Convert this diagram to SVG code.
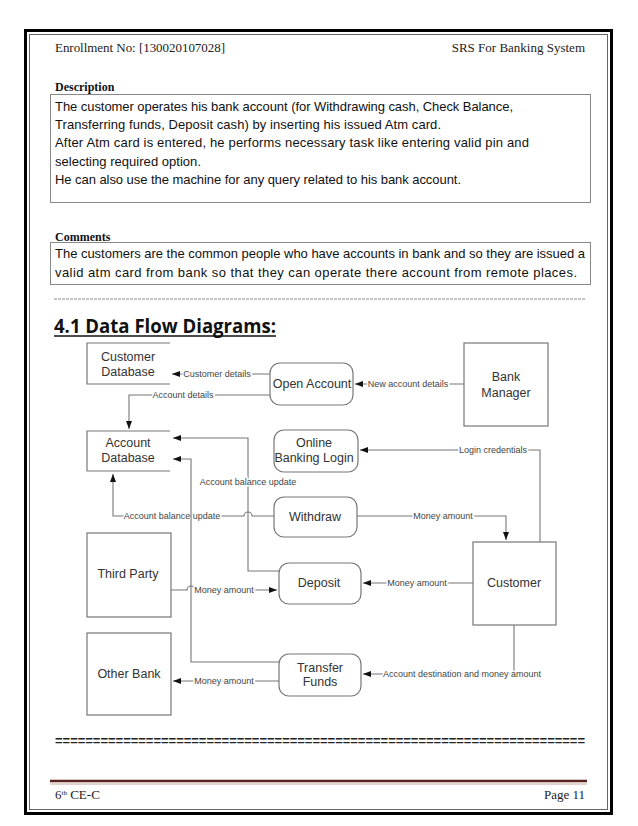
<svg xmlns="http://www.w3.org/2000/svg" width="638" height="826" viewBox="0 0 638 826">
<style>
.hdr{font-family:"Liberation Serif",serif;font-size:13px;fill:#222}
.lbl{font-family:"Liberation Serif",serif;font-size:12px;font-weight:bold;fill:#111}
.body{font-family:"Liberation Sans",sans-serif;font-size:13px;fill:#111}
.box{fill:none;stroke:#888;stroke-width:1}
.node{fill:#fff;stroke:#777;stroke-width:1.2}
.store{fill:none;stroke:#777;stroke-width:1.2}
.nt{font-family:"Liberation Sans",Arial,sans-serif;font-size:12.5px;fill:#333;text-anchor:middle}
.cl{font-family:"Liberation Sans",Arial,sans-serif;font-size:9px;fill:#444;text-anchor:middle;paint-order:stroke;stroke:#fff;stroke-width:3px}
.ln{fill:none;stroke:#777;stroke-width:1.1}
</style>
<defs>
<marker id="ah" markerWidth="9" markerHeight="7" refX="8" refY="3" orient="auto" markerUnits="userSpaceOnUse">
<path d="M0,0 L8,3 L0,6 z" fill="#111"/>
</marker>
</defs>
<rect width="638" height="826" fill="#fff"/>
<!-- page border -->
<rect x="25.5" y="30.5" width="586" height="783" fill="none" stroke="#000" stroke-width="3"/>
<rect x="29.5" y="34.5" width="578" height="775" fill="none" stroke="#666" stroke-width="1"/>

<!-- header -->
<text class="hdr" x="55" y="52" textLength="170">Enrollment No: [130020107028]</text>
<text class="hdr" x="585" y="52" text-anchor="end">SRS For Banking System</text>

<text class="lbl" x="55" y="91">Description</text>
<rect class="box" x="50.5" y="94.5" width="540" height="108"/>
<text class="body" x="55" y="111" textLength="458">The customer operates his bank account (for Withdrawing cash, Check Balance,</text>
<text class="body" x="55" y="129" textLength="386">Transferring funds, Deposit cash) by inserting his issued Atm card.</text>
<text class="body" x="55" y="147" textLength="474">After Atm card is entered, he performs necessary task like entering valid pin and</text>
<text class="body" x="55" y="166" textLength="146">selecting required option.</text>
<text class="body" x="55" y="184" textLength="406">He can also use the machine for any query related to his bank account.</text>

<text class="lbl" x="55" y="241">Comments</text>
<rect class="box" x="50.5" y="242.5" width="540" height="42"/>
<text class="body" x="55" y="258" textLength="530">The customers are the common people who have accounts in bank and so they are issued a</text>
<text class="body" x="55" y="277" textLength="522">valid atm card from bank so that they can operate there account from remote places.</text>

<line x1="54" y1="299" x2="585" y2="299" stroke="#888" stroke-width="1" stroke-dasharray="3,1"/>

<text x="54" y="333" font-family="'Open Sans',sans-serif" font-size="19" font-weight="bold" fill="#111" textLength="222" lengthAdjust="spacingAndGlyphs">4.1 Data Flow Diagrams:</text>
<line x1="54" y1="336" x2="276" y2="336" stroke="#111" stroke-width="1.3"/>

<!-- nodes -->
<g id="customer-database">
<path class="store" d="M170,343 H87 V384 H170"/>
<text class="nt" x="128" y="361">Customer</text>
<text class="nt" x="128" y="376">Database</text>
</g>
<g id="open-account">
<rect class="node" x="270" y="363" width="83" height="42" rx="10"/>
<text class="nt" x="312" y="388">Open Account</text>
</g>
<g id="bank-manager">
<rect class="node" x="464" y="343" width="84" height="83"/>
<text class="nt" x="506" y="381">Bank</text>
<text class="nt" x="506" y="397">Manager</text>
</g>
<g id="account-database">
<path class="store" d="M170,431 H87 V471 H170"/>
<text class="nt" x="128" y="447">Account</text>
<text class="nt" x="128" y="462">Database</text>
</g>
<g id="online-banking-login">
<rect class="node" x="274" y="430" width="84" height="42" rx="10"/>
<text class="nt" x="314" y="447">Online</text>
<text class="nt" x="314" y="462">Banking Login</text>
</g>
<g id="withdraw">
<rect class="node" x="274" y="497" width="83" height="40" rx="10"/>
<text class="nt" x="315" y="521">Withdraw</text>
</g>
<g id="deposit">
<rect class="node" x="279" y="563" width="82" height="41" rx="10"/>
<text class="nt" x="319" y="587">Deposit</text>
</g>
<g id="third-party">
<rect class="node" x="87" y="533" width="84" height="84"/>
<text class="nt" x="128" y="578">Third Party</text>
</g>
<g id="customer">
<rect class="node" x="473" y="542" width="83" height="83"/>
<text class="nt" x="514" y="587">Customer</text>
</g>
<g id="transfer-funds">
<rect class="node" x="279" y="654" width="82" height="42" rx="10"/>
<text class="nt" x="320" y="672">Transfer</text>
<text class="nt" x="320" y="686">Funds</text>
</g>
<g id="other-bank">
<rect class="node" x="87" y="633" width="84" height="82"/>
<text class="nt" x="129" y="678">Other Bank</text>
</g>

<!-- connectors -->
<g id="connectors">
<path class="ln" d="M464,384 H355" marker-end="url(#ah)"/>
<text class="cl" x="408" y="387">New account details</text>
<path class="ln" d="M270,374 H172" marker-end="url(#ah)"/>
<text class="cl" x="217" y="377">Customer details</text>
<path class="ln" d="M270,395 H129 V429" marker-end="url(#ah)"/>
<text class="cl" x="183" y="398">Account details</text>
<path class="ln" d="M540,542 V450 H360" marker-end="url(#ah)"/>
<text class="cl" x="493" y="453">Login credentials</text>
<path class="ln" d="M357,516 H506 V540" marker-end="url(#ah)"/>
<text class="cl" x="443" y="519">Money amount</text>
<path class="ln" d="M473,583 H363" marker-end="url(#ah)"/>
<text class="cl" x="417" y="586">Money amount</text>
<path class="ln" d="M171,590 H187 a4,4 0 0 1 8,0 H277" marker-end="url(#ah)"/>
<text class="cl" x="224" y="593">Money amount</text>
<path class="ln" d="M279,571 H248 V438 H173" marker-end="url(#ah)"/>
<text class="cl" x="248" y="485">Account balance update</text>
<path class="ln" d="M274,516 H252 a4,4 0 0 0 -8,0 H113 V474" marker-end="url(#ah)"/>
<text class="cl" x="172" y="519">Account balance update</text>
<path class="ln" d="M279,662 H191 V459 H173" marker-end="url(#ah)"/>
<path class="ln" d="M279,681 H173" marker-end="url(#ah)"/>
<text class="cl" x="224" y="684">Money amount</text>
<path class="ln" d="M514,625 V674 H363" marker-end="url(#ah)"/>
<text class="cl" x="462" y="677">Account destination and money amount</text>
</g>

<!-- footer -->
<text x="55" y="745" font-family="'Liberation Sans',sans-serif" font-size="13" font-weight="bold" fill="#222" textLength="530" lengthAdjust="spacingAndGlyphs">======================================================================</text>
<line x1="50" y1="781" x2="587" y2="781" stroke="#5a1f1f" stroke-width="2.5"/>
<line x1="50" y1="784" x2="587" y2="784" stroke="#c9a3a3" stroke-width="1"/>
<text class="hdr" x="55" y="799" font-size="11">6<tspan font-size="7" dy="-4">th</tspan><tspan dy="4"> CE-C</tspan></text>
<text class="hdr" x="585" y="799" font-size="11" text-anchor="end">Page 11</text>
</svg>
